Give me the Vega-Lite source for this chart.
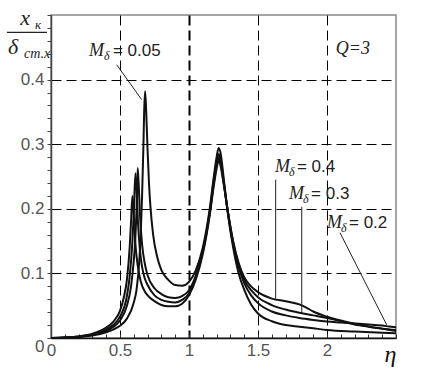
{
"$schema": "https://vega.github.io/schema/vega-lite/v6.json",
"width": 345, "height": 323,
"autosize": "none",
"padding": {"left": 51, "top": 15, "right": 42, "bottom": 40},
"background": "white",
"config": {"view": {"stroke": "#888", "strokeWidth": 1.5}},
"layer": [
{
"data": {"values": [
{"m":"0.05","eta":0,"v":0},{"m":"0.05","eta":0.1,"v":0.0005},{"m":"0.05","eta":0.2,"v":0.0015},{"m":"0.05","eta":0.3,"v":0.004},{"m":"0.05","eta":0.4,"v":0.009},{"m":"0.05","eta":0.45,"v":0.013},{"m":"0.05","eta":0.5,"v":0.019},{"m":"0.05","eta":0.55,"v":0.03},{"m":"0.05","eta":0.6,"v":0.055},{"m":"0.05","eta":0.62,"v":0.075},{"m":"0.05","eta":0.64,"v":0.12},{"m":"0.05","eta":0.65,"v":0.16},{"m":"0.05","eta":0.66,"v":0.22},{"m":"0.05","eta":0.67,"v":0.3},{"m":"0.05","eta":0.675,"v":0.35},{"m":"0.05","eta":0.682,"v":0.382},{"m":"0.05","eta":0.69,"v":0.35},{"m":"0.05","eta":0.7,"v":0.29},{"m":"0.05","eta":0.71,"v":0.24},{"m":"0.05","eta":0.72,"v":0.205},{"m":"0.05","eta":0.74,"v":0.16},{"m":"0.05","eta":0.77,"v":0.125},{"m":"0.05","eta":0.8,"v":0.105},{"m":"0.05","eta":0.85,"v":0.09},{"m":"0.05","eta":0.9,"v":0.082},{"m":"0.05","eta":0.95,"v":0.081},{"m":"0.05","eta":1.0,"v":0.087},{"m":"0.05","eta":1.05,"v":0.105},{"m":"0.05","eta":1.1,"v":0.14},{"m":"0.05","eta":1.15,"v":0.2},{"m":"0.05","eta":1.18,"v":0.25},{"m":"0.05","eta":1.2,"v":0.28},{"m":"0.05","eta":1.215,"v":0.294},{"m":"0.05","eta":1.23,"v":0.285},{"m":"0.05","eta":1.25,"v":0.25},{"m":"0.05","eta":1.28,"v":0.195},{"m":"0.05","eta":1.32,"v":0.14},{"m":"0.05","eta":1.36,"v":0.1},{"m":"0.05","eta":1.4,"v":0.075},{"m":"0.05","eta":1.45,"v":0.052},{"m":"0.05","eta":1.5,"v":0.038},{"m":"0.05","eta":1.6,"v":0.026},{"m":"0.05","eta":1.7,"v":0.02},{"m":"0.05","eta":1.8,"v":0.0175},{"m":"0.05","eta":1.9,"v":0.015},{"m":"0.05","eta":2.0,"v":0.0125},{"m":"0.05","eta":2.2,"v":0.01},{"m":"0.05","eta":2.4,"v":0.008},{"m":"0.05","eta":2.5,"v":0.0072},
{"m":"0.2","eta":0,"v":0},{"m":"0.2","eta":0.1,"v":0.0006},{"m":"0.2","eta":0.2,"v":0.002},{"m":"0.2","eta":0.3,"v":0.005},{"m":"0.2","eta":0.4,"v":0.011},{"m":"0.2","eta":0.45,"v":0.017},{"m":"0.2","eta":0.5,"v":0.027},{"m":"0.2","eta":0.55,"v":0.05},{"m":"0.2","eta":0.58,"v":0.08},{"m":"0.2","eta":0.6,"v":0.12},{"m":"0.2","eta":0.61,"v":0.15},{"m":"0.2","eta":0.62,"v":0.2},{"m":"0.2","eta":0.628,"v":0.263},{"m":"0.2","eta":0.635,"v":0.24},{"m":"0.2","eta":0.645,"v":0.19},{"m":"0.2","eta":0.66,"v":0.145},{"m":"0.2","eta":0.68,"v":0.115},{"m":"0.2","eta":0.7,"v":0.097},{"m":"0.2","eta":0.75,"v":0.077},{"m":"0.2","eta":0.8,"v":0.068},{"m":"0.2","eta":0.85,"v":0.063},{"m":"0.2","eta":0.9,"v":0.062},{"m":"0.2","eta":0.95,"v":0.065},{"m":"0.2","eta":1.0,"v":0.074},{"m":"0.2","eta":1.05,"v":0.097},{"m":"0.2","eta":1.1,"v":0.135},{"m":"0.2","eta":1.15,"v":0.195},{"m":"0.2","eta":1.18,"v":0.245},{"m":"0.2","eta":1.2,"v":0.272},{"m":"0.2","eta":1.215,"v":0.285},{"m":"0.2","eta":1.23,"v":0.275},{"m":"0.2","eta":1.25,"v":0.245},{"m":"0.2","eta":1.28,"v":0.197},{"m":"0.2","eta":1.32,"v":0.145},{"m":"0.2","eta":1.36,"v":0.11},{"m":"0.2","eta":1.4,"v":0.085},{"m":"0.2","eta":1.45,"v":0.066},{"m":"0.2","eta":1.5,"v":0.054},{"m":"0.2","eta":1.6,"v":0.041},{"m":"0.2","eta":1.7,"v":0.035},{"m":"0.2","eta":1.8,"v":0.031},{"m":"0.2","eta":1.9,"v":0.028},{"m":"0.2","eta":2.0,"v":0.0255},{"m":"0.2","eta":2.1,"v":0.024},{"m":"0.2","eta":2.2,"v":0.0225},{"m":"0.2","eta":2.3,"v":0.021},{"m":"0.2","eta":2.4,"v":0.0192},{"m":"0.2","eta":2.45,"v":0.0178},{"m":"0.2","eta":2.5,"v":0.0165},
{"m":"0.3","eta":0,"v":0},{"m":"0.3","eta":0.1,"v":0.0007},{"m":"0.3","eta":0.2,"v":0.0022},{"m":"0.3","eta":0.3,"v":0.0055},{"m":"0.3","eta":0.4,"v":0.013},{"m":"0.3","eta":0.45,"v":0.02},{"m":"0.3","eta":0.5,"v":0.033},{"m":"0.3","eta":0.55,"v":0.065},{"m":"0.3","eta":0.57,"v":0.095},{"m":"0.3","eta":0.59,"v":0.15},{"m":"0.3","eta":0.6,"v":0.195},{"m":"0.3","eta":0.612,"v":0.255},{"m":"0.3","eta":0.62,"v":0.23},{"m":"0.3","eta":0.63,"v":0.18},{"m":"0.3","eta":0.645,"v":0.135},{"m":"0.3","eta":0.66,"v":0.11},{"m":"0.3","eta":0.68,"v":0.092},{"m":"0.3","eta":0.7,"v":0.082},{"m":"0.3","eta":0.75,"v":0.066},{"m":"0.3","eta":0.8,"v":0.059},{"m":"0.3","eta":0.85,"v":0.056},{"m":"0.3","eta":0.9,"v":0.055},{"m":"0.3","eta":0.95,"v":0.059},{"m":"0.3","eta":1.0,"v":0.069},{"m":"0.3","eta":1.05,"v":0.094},{"m":"0.3","eta":1.1,"v":0.133},{"m":"0.3","eta":1.15,"v":0.192},{"m":"0.3","eta":1.18,"v":0.24},{"m":"0.3","eta":1.2,"v":0.267},{"m":"0.3","eta":1.215,"v":0.28},{"m":"0.3","eta":1.23,"v":0.27},{"m":"0.3","eta":1.25,"v":0.242},{"m":"0.3","eta":1.28,"v":0.198},{"m":"0.3","eta":1.32,"v":0.148},{"m":"0.3","eta":1.36,"v":0.113},{"m":"0.3","eta":1.4,"v":0.09},{"m":"0.3","eta":1.45,"v":0.074},{"m":"0.3","eta":1.5,"v":0.063},{"m":"0.3","eta":1.6,"v":0.051},{"m":"0.3","eta":1.7,"v":0.044},{"m":"0.3","eta":1.8,"v":0.039},{"m":"0.3","eta":1.9,"v":0.035},{"m":"0.3","eta":2.0,"v":0.031},{"m":"0.3","eta":2.1,"v":0.026},{"m":"0.3","eta":2.2,"v":0.021},{"m":"0.3","eta":2.3,"v":0.0175},{"m":"0.3","eta":2.4,"v":0.0145},{"m":"0.3","eta":2.5,"v":0.0125},
{"m":"0.4","eta":0,"v":0},{"m":"0.4","eta":0.1,"v":0.0008},{"m":"0.4","eta":0.2,"v":0.0025},{"m":"0.4","eta":0.3,"v":0.0065},{"m":"0.4","eta":0.4,"v":0.016},{"m":"0.4","eta":0.45,"v":0.025},{"m":"0.4","eta":0.5,"v":0.042},{"m":"0.4","eta":0.53,"v":0.065},{"m":"0.4","eta":0.55,"v":0.09},{"m":"0.4","eta":0.57,"v":0.14},{"m":"0.4","eta":0.58,"v":0.18},{"m":"0.4","eta":0.59,"v":0.22},{"m":"0.4","eta":0.6,"v":0.19},{"m":"0.4","eta":0.61,"v":0.15},{"m":"0.4","eta":0.63,"v":0.11},{"m":"0.4","eta":0.65,"v":0.088},{"m":"0.4","eta":0.68,"v":0.072},{"m":"0.4","eta":0.7,"v":0.066},{"m":"0.4","eta":0.75,"v":0.057},{"m":"0.4","eta":0.8,"v":0.051},{"m":"0.4","eta":0.85,"v":0.049},{"m":"0.4","eta":0.9,"v":0.049},{"m":"0.4","eta":0.95,"v":0.053},{"m":"0.4","eta":1.0,"v":0.066},{"m":"0.4","eta":1.05,"v":0.091},{"m":"0.4","eta":1.1,"v":0.13},{"m":"0.4","eta":1.15,"v":0.19},{"m":"0.4","eta":1.18,"v":0.236},{"m":"0.4","eta":1.2,"v":0.262},{"m":"0.4","eta":1.215,"v":0.275},{"m":"0.4","eta":1.23,"v":0.265},{"m":"0.4","eta":1.25,"v":0.24},{"m":"0.4","eta":1.28,"v":0.198},{"m":"0.4","eta":1.32,"v":0.15},{"m":"0.4","eta":1.36,"v":0.116},{"m":"0.4","eta":1.4,"v":0.094},{"m":"0.4","eta":1.45,"v":0.08},{"m":"0.4","eta":1.5,"v":0.071},{"m":"0.4","eta":1.6,"v":0.061},{"m":"0.4","eta":1.7,"v":0.057},{"m":"0.4","eta":1.8,"v":0.052},{"m":"0.4","eta":1.85,"v":0.047},{"m":"0.4","eta":1.9,"v":0.041},{"m":"0.4","eta":2.0,"v":0.033},{"m":"0.4","eta":2.1,"v":0.027},{"m":"0.4","eta":2.2,"v":0.022},{"m":"0.4","eta":2.3,"v":0.018},{"m":"0.4","eta":2.4,"v":0.0145},{"m":"0.4","eta":2.5,"v":0.011}
]},
"mark": {"type": "line", "color": "#111", "strokeWidth": 2, "interpolate": "monotone"},
"encoding": {
 "x": {"field": "eta", "type": "quantitative", "scale": {"domain": [0, 2.5], "nice": false, "zero": false},
  "axis": {"title": null, "tickCount": 60,
   "values": [0,0.1,0.2,0.3,0.4,0.5,0.6,0.7,0.8,0.9,1,1.1,1.2,1.3,1.4,1.5,1.6,1.7,1.8,1.9,2,2.1,2.2,2.3,2.4,2.5],
   "grid": true, "gridColor": "#000", "gridDash": [10, 5],
   "gridOpacity": {"condition": {"test": "(datum.value==0.5 || datum.value==1 || datum.value==1.5 || datum.value==2)", "value": 1}, "value": 0},
   "gridWidth": {"condition": {"test": "datum.value==1", "value": 2}, "value": 1},
   "domainColor": "#111", "domainWidth": 1.5,
   "tickColor": "#333", "tickSize": -4, "tickWidth": 1,
   "labelExpr": "datum.value==2.5 ? 'η' : ((datum.value==0 || datum.value==0.5 || datum.value==1 || datum.value==1.5 || datum.value==2) ? format(datum.value, '~g') : '')",
   "labelOverlap": false, "labelFlush": false, "labelPadding": 8,
   "labelFont": {"condition": {"test": "datum.value==2.5", "value": "Liberation Serif"}, "value": "Liberation Sans"},
   "labelFontStyle": {"condition": {"test": "datum.value==2.5", "value": "italic"}, "value": "normal"},
   "labelFontSize": {"condition": {"test": "datum.value==2.5", "value": 24}, "value": 17},
   "labelColor": {"condition": {"test": "datum.value==2.5", "value": "#111"}, "value": "#555"},
   "labelOffset": {"condition": {"test": "datum.value==2.5", "value": -6}, "value": 0}
  }},
 "y": {"field": "v", "type": "quantitative", "scale": {"domain": [0, 0.5], "nice": false},
  "axis": {"title": null, "tickCount": 60,
   "values": [0,0.02,0.04,0.06,0.08,0.1,0.12,0.14,0.16,0.18,0.2,0.22,0.24,0.26,0.28,0.3,0.32,0.34,0.36,0.38,0.4,0.42,0.44,0.46,0.48,0.5],
   "grid": true, "gridColor": "#000", "gridDash": [10, 5],
   "gridOpacity": {"condition": {"test": "(datum.value==0.1 || datum.value==0.2 || datum.value==0.3 || datum.value==0.4)", "value": 1}, "value": 0},
   "domainColor": "#444", "domainWidth": 1.5,
   "tickColor": "#444", "tickSize": 4,
   "labelExpr": "(datum.value==0.1 || datum.value==0.2 || datum.value==0.3 || datum.value==0.4) ? format(datum.value, '.1f') : (datum.value==0 ? '0' : '')",
   "labelOverlap": false, "labelFlush": false, "labelPadding": 3,
   "labelFont": "Liberation Sans", "labelFontSize": 17, "labelColor": "#555",
   "labelBaseline": {"condition": {"test": "datum.value==0", "value": "top"}, "value": "middle"}
  }},
 "detail": {"field": "m"}
}
},
{"data": {"values": [{}]}, "mark": {"type": "rule", "color": "#222", "strokeWidth": 1},
 "encoding": {"x": {"datum": 0.476}, "y": {"datum": 0.423}, "x2": {"datum": 0.657}, "y2": {"datum": 0.369}}},
{"data": {"values": [{}]}, "mark": {"type": "rule", "color": "#222", "strokeWidth": 1},
 "encoding": {"x": {"datum": 1.628}, "y": {"datum": 0.245}, "y2": {"datum": 0.059}}},
{"data": {"values": [{}]}, "mark": {"type": "rule", "color": "#222", "strokeWidth": 1},
 "encoding": {"x": {"datum": 1.817}, "y": {"datum": 0.203}, "y2": {"datum": 0.039}}},
{"data": {"values": [{}]}, "mark": {"type": "rule", "color": "#222", "strokeWidth": 1},
 "encoding": {"x": {"datum": 2.094}, "y": {"datum": 0.163}, "x2": {"datum": 2.433}, "y2": {"datum": 0.0202}}},
{"data": {"values": [{}]}, "mark": {"type": "rule", "color": "#222", "strokeWidth": 1.2},
 "encoding": {"x": {"datum": -0.319}, "y": {"datum": 0.473}, "x2": {"datum": -0.029}}},
{"data": {"values": [{}]},
 "mark": {"type": "text", "align": "left", "baseline": "alphabetic", "font": "Liberation Serif", "fontStyle": "italic", "fontSize": 18, "color": "#222", "text": "M"},
 "encoding": {"x": {"datum": 0.275}, "y": {"datum": 0.436}}},
{"data": {"values": [{}]},
 "mark": {"type": "text", "align": "left", "baseline": "alphabetic", "font": "Liberation Serif", "fontStyle": "italic", "fontSize": 12, "color": "#222", "text": "δ", "dx": 15, "dy": 4},
 "encoding": {"x": {"datum": 0.275}, "y": {"datum": 0.436}}},
{"data": {"values": [{}]},
 "mark": {"type": "text", "align": "left", "baseline": "alphabetic", "font": "Liberation Sans", "fontSize": 17, "color": "#222", "text": "= 0.05", "dx": 24},
 "encoding": {"x": {"datum": 0.275}, "y": {"datum": 0.436}}},
{"data": {"values": [{}]},
 "mark": {"type": "text", "align": "left", "baseline": "alphabetic", "font": "Liberation Serif", "fontStyle": "italic", "fontSize": 18, "color": "#222", "text": "M"},
 "encoding": {"x": {"datum": 1.623}, "y": {"datum": 0.257}}},
{"data": {"values": [{}]},
 "mark": {"type": "text", "align": "left", "baseline": "alphabetic", "font": "Liberation Serif", "fontStyle": "italic", "fontSize": 12, "color": "#222", "text": "δ", "dx": 14, "dy": 4},
 "encoding": {"x": {"datum": 1.623}, "y": {"datum": 0.257}}},
{"data": {"values": [{}]},
 "mark": {"type": "text", "align": "left", "baseline": "alphabetic", "font": "Liberation Sans", "fontSize": 17, "color": "#222", "text": "= 0.4", "dx": 22},
 "encoding": {"x": {"datum": 1.623}, "y": {"datum": 0.257}}},
{"data": {"values": [{}]},
 "mark": {"type": "text", "align": "left", "baseline": "alphabetic", "font": "Liberation Serif", "fontStyle": "italic", "fontSize": 18, "color": "#222", "text": "M"},
 "encoding": {"x": {"datum": 1.725}, "y": {"datum": 0.2155}}},
{"data": {"values": [{}]},
 "mark": {"type": "text", "align": "left", "baseline": "alphabetic", "font": "Liberation Serif", "fontStyle": "italic", "fontSize": 12, "color": "#222", "text": "δ", "dx": 14, "dy": 4},
 "encoding": {"x": {"datum": 1.725}, "y": {"datum": 0.2155}}},
{"data": {"values": [{}]},
 "mark": {"type": "text", "align": "left", "baseline": "alphabetic", "font": "Liberation Sans", "fontSize": 17, "color": "#222", "text": "= 0.3", "dx": 22},
 "encoding": {"x": {"datum": 1.725}, "y": {"datum": 0.2155}}},
{"data": {"values": [{}]},
 "mark": {"type": "text", "align": "left", "baseline": "alphabetic", "font": "Liberation Serif", "fontStyle": "italic", "fontSize": 18, "color": "#222", "text": "M"},
 "encoding": {"x": {"datum": 2.0}, "y": {"datum": 0.1705}}},
{"data": {"values": [{}]},
 "mark": {"type": "text", "align": "left", "baseline": "alphabetic", "font": "Liberation Serif", "fontStyle": "italic", "fontSize": 12, "color": "#222", "text": "δ", "dx": 14, "dy": 4},
 "encoding": {"x": {"datum": 2.0}, "y": {"datum": 0.1705}}},
{"data": {"values": [{}]},
 "mark": {"type": "text", "align": "left", "baseline": "alphabetic", "font": "Liberation Sans", "fontSize": 17, "color": "#222", "text": "= 0.2", "dx": 22},
 "encoding": {"x": {"datum": 2.0}, "y": {"datum": 0.1705}}},
{"data": {"values": [{}]},
 "mark": {"type": "text", "align": "center", "baseline": "alphabetic", "font": "Liberation Serif", "fontStyle": "italic", "fontSize": 18, "color": "#222", "text": "Q=3"},
 "encoding": {"x": {"datum": 2.188}, "y": {"datum": 0.44}}},
{"data": {"values": [{}]},
 "mark": {"type": "text", "align": "center", "baseline": "alphabetic", "font": "Liberation Serif", "fontStyle": "italic", "fontSize": 22, "color": "#222", "text": "x"},
 "encoding": {"x": {"datum": -0.188}, "y": {"datum": 0.485}}},
{"data": {"values": [{}]},
 "mark": {"type": "text", "align": "center", "baseline": "alphabetic", "font": "Liberation Serif", "fontStyle": "italic", "fontSize": 13, "color": "#222", "text": "к"},
 "encoding": {"x": {"datum": -0.094}, "y": {"datum": 0.479}}},
{"data": {"values": [{}]},
 "mark": {"type": "text", "align": "center", "baseline": "alphabetic", "font": "Liberation Serif", "fontStyle": "italic", "fontSize": 22, "color": "#222", "text": "δ"},
 "encoding": {"x": {"datum": -0.275}, "y": {"datum": 0.439}}},
{"data": {"values": [{}]},
 "mark": {"type": "text", "align": "center", "baseline": "alphabetic", "font": "Liberation Serif", "fontStyle": "italic", "fontSize": 14, "color": "#222", "text": "ст.х"},
 "encoding": {"x": {"datum": -0.101}, "y": {"datum": 0.434}}}
]
}
